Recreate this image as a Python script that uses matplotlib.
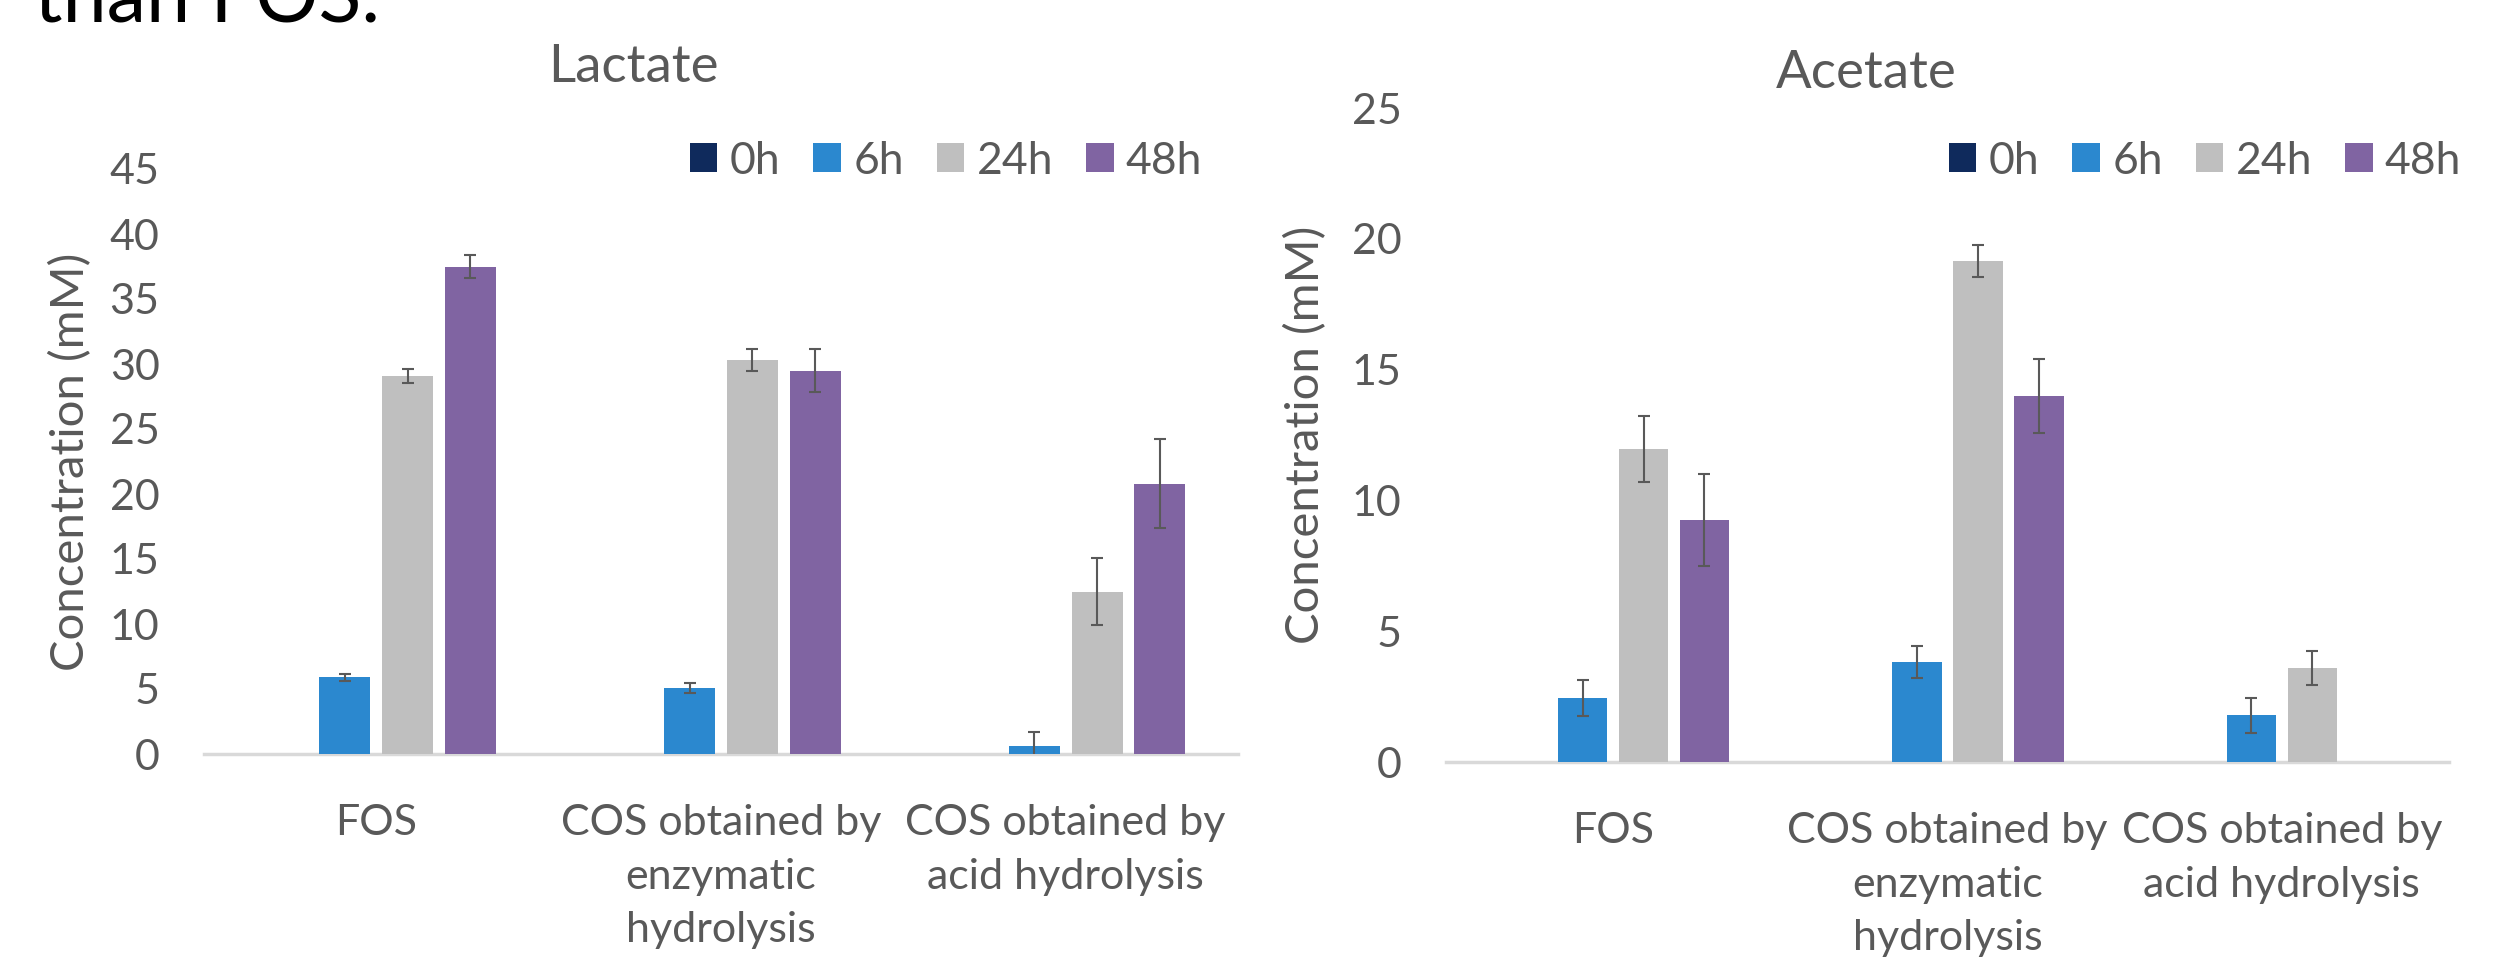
import matplotlib
matplotlib.use("Agg")
import matplotlib.pyplot as plt
import numpy as np

plt.rcParams['font.family'] = ['Lato', 'DejaVu Sans']

categories = ["FOS", "COS obtained by\nenzymatic\nhydrolysis", "COS obtained by\nacid hydrolysis"]
series = ["0h", "6h", "24h", "48h"]
colors = ["#0f2a5c", "#2b88cf", "#bfbfbf", "#8064a2"]

lactate_vals = {"0h": [0, 0, 0], "6h": [5.9, 5.1, 0.65],
                "24h": [29.1, 30.3, 12.5], "48h": [37.5, 29.5, 20.8]}
lactate_err = {"0h": [0, 0, 0], "6h": [0.27, 0.38, 1.05],
               "24h": [0.54, 0.86, 2.55], "48h": [0.85, 1.63, 3.45]}
acetate_vals = {"0h": [0, 0, 0], "6h": [2.45, 3.83, 1.78],
                "24h": [11.98, 19.16, 3.6], "48h": [9.25, 13.98, 0]}
acetate_err = {"0h": [0, 0, 0], "6h": [0.68, 0.6, 0.68],
               "24h": [1.26, 0.61, 0.66], "48h": [1.75, 1.42, 0]}

TXT = "#595959"
FS = 31

fig = plt.figure(figsize=(25.05, 9.59), dpi=100)
W, H = 2505, 959
axL = fig.add_axes([204 / W, 1 - 754 / H, (1238 - 204) / W, (754 - 169) / H])
axR = fig.add_axes([1446 / W, 1 - 762 / H, (2449 - 1446) / W, (762 - 108) / H])

x = np.arange(len(categories))
step = 0.182
bw = 0.148


def draw(ax, vals, errs, ymax, legend_anchor):
    handles = []
    for i, s in enumerate(series):
        pos = x + (i - 1.5) * step
        b = ax.bar(pos, vals[s], width=bw, color=colors[i], label=s, zorder=2)
        handles.append(b)
        v = np.array(vals[s]); e = np.array(errs[s])
        m = e > 0
        if m.any():
            ax.errorbar(pos[m], v[m], yerr=e[m], fmt='none', ecolor=TXT,
                        elinewidth=1.5, capsize=4, capthick=1.5, zorder=3)
    ax.set_xlim(-0.5, 2.5)
    ax.set_ylim(0, ymax)
    ax.set_yticks(np.arange(0, ymax + 1, 5))
    ax.set_xticks(x)
    ax.set_xticklabels(categories, linespacing=1.5)
    for sp in ["top", "right", "left"]:
        ax.spines[sp].set_visible(False)
    ax.spines["bottom"].set_color("#d9d9d9")
    ax.spines["bottom"].set_linewidth(2.5)
    ax.spines["bottom"].set_zorder(1)
    ax.tick_params(axis='both', length=0, labelsize=FS, colors=TXT)
    ax.tick_params(axis='y', pad=32)
    ax.tick_params(axis='x', pad=36)
    ax.set_ylabel("Concentration (mM)", fontsize=34, color=TXT)
    ax.legend(handles=handles, loc='center', bbox_to_anchor=legend_anchor,
              bbox_transform=fig.transFigure, ncol=4, frameon=False,
              fontsize=32, labelcolor=TXT, handlelength=0.62, handleheight=0.62,
              handletextpad=0.28, columnspacing=0.74)


draw(axL, lactate_vals, lactate_err, 45, (946 / W, 1 - 161 / H))
draw(axR, acetate_vals, acetate_err, 25, (2205 / W, 1 - 161 / H))
axL.yaxis.set_label_coords(-0.108, 0.5)
axR.yaxis.set_label_coords(-0.118, 0.5)

fig.text(633 / W, 1 - 67 / H, "Lactate", ha='center', va='center', fontsize=38, color=TXT)
fig.text(1866 / W, 1 - 74 / H, "Acetate", ha='center', va='center', fontsize=38, color=TXT)
fig.text(34 / W, 1 - 22 / H, "than FOS.", ha='left', va='baseline', fontsize=57, color='black')

fig.savefig("out.png", dpi=100, facecolor='white')
